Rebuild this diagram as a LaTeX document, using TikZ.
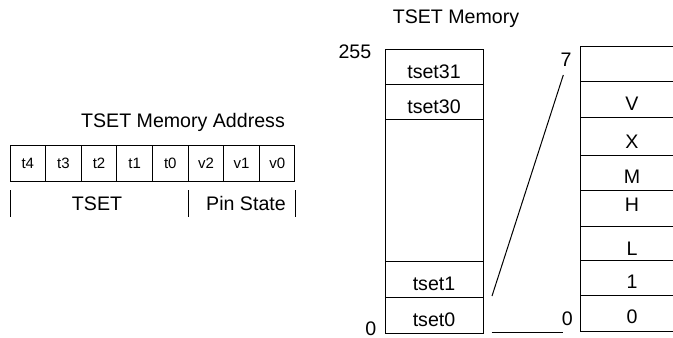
\documentclass[tikz,border=0pt]{standalone}
\usepackage{fontspec}
\setmainfont{Liberation Sans}
\usetikzlibrary{positioning}

\tikzset{
    lbl/.style={anchor=base, inner sep=0pt, font=\fontsize{9.8}{11}\selectfont},
    bitlbl/.style={draw, line width=0.5pt, minimum width=17.8pt, minimum height=18.3pt,
        inner sep=0pt, font=\fontsize{7.5}{9}\selectfont},
}

\begin{document}
\begin{tikzpicture}[x=0.5pt, y=-0.5pt, line width=0.5pt]
    \useasboundingbox (0,0) rectangle (673,337);

    % address bits
    \node[lbl] (addr) at (183,127) {TSET Memory Address};
    \foreach \i/\t in {0/t4, 1/t3, 2/t2, 3/t1, 4/t0, 5/v2, 6/v1, 7/v0} {
        \node[bitlbl] (b\i) at ({27.8+35.625*\i},163.3) {\t};
    }
    \draw[] (10,190) -- (10,216.7);
    \draw[] (188.3,190) -- (188.3,216.7);
    \draw[] (295,190) -- (295,216.7);
    \node[lbl] (tset) at (97,210) {TSET};
    \node[lbl] (pins) at (246,210) {Pin State};

    % tset memory
    \node[lbl] (mem) at (456,24) {TSET Memory};
    \draw[] (385,49.3) rectangle (483.3,333.3);
    \foreach \y in {84.3, 119, 261.7, 297.3} {
        \draw[] (385,\y) -- (483.3,\y);
    }
    \node[lbl] (t31) at (434,78.3) {tset31};
    \node[lbl] (t30) at (434,113.3) {tset30};
    \node[lbl] (t1) at (434,290.3) {tset1};
    \node[lbl] (t0) at (434,326.7) {tset0};
    \node[lbl, anchor=base east] (top) at (371.7,58.3) {255};
    \node[lbl, anchor=base east] (bot) at (376.7,335) {0};

    % pin state entry
    \draw[] (674,46.7) -- (580.7,46.7) -- (580.7,331.7) -- (674,331.7);
    \foreach \y in {81.7, 117.7, 155, 190.7, 226.7, 260, 295.7} {
        \draw[] (580.7,\y) -- (674,\y);
    }
    \node[lbl] (sv) at (632,110) {V};
    \node[lbl] (sx) at (632,148.3) {X};
    \node[lbl] (sm) at (632,183.3) {M};
    \node[lbl] (sh) at (632,211.7) {H};
    \node[lbl] (sl) at (632,255) {L};
    \node[lbl] (s1) at (632,288.3) {1};
    \node[lbl] (s0) at (632,323.3) {0};
    \node[lbl, anchor=base east] (hi) at (572,66.7) {7};
    \node[lbl, anchor=base east] (lo) at (573.3,325) {0};

    \coordinate (za) at (492,296);
    \coordinate (zb) at (563.3,75);
    \coordinate (zc) at (491.7,332.7);
    \coordinate (zd) at (562.7,332.7);
    \draw[] (za) -- (zb);
    \draw[] (zc) -- (zd);
\end{tikzpicture}
\end{document}
